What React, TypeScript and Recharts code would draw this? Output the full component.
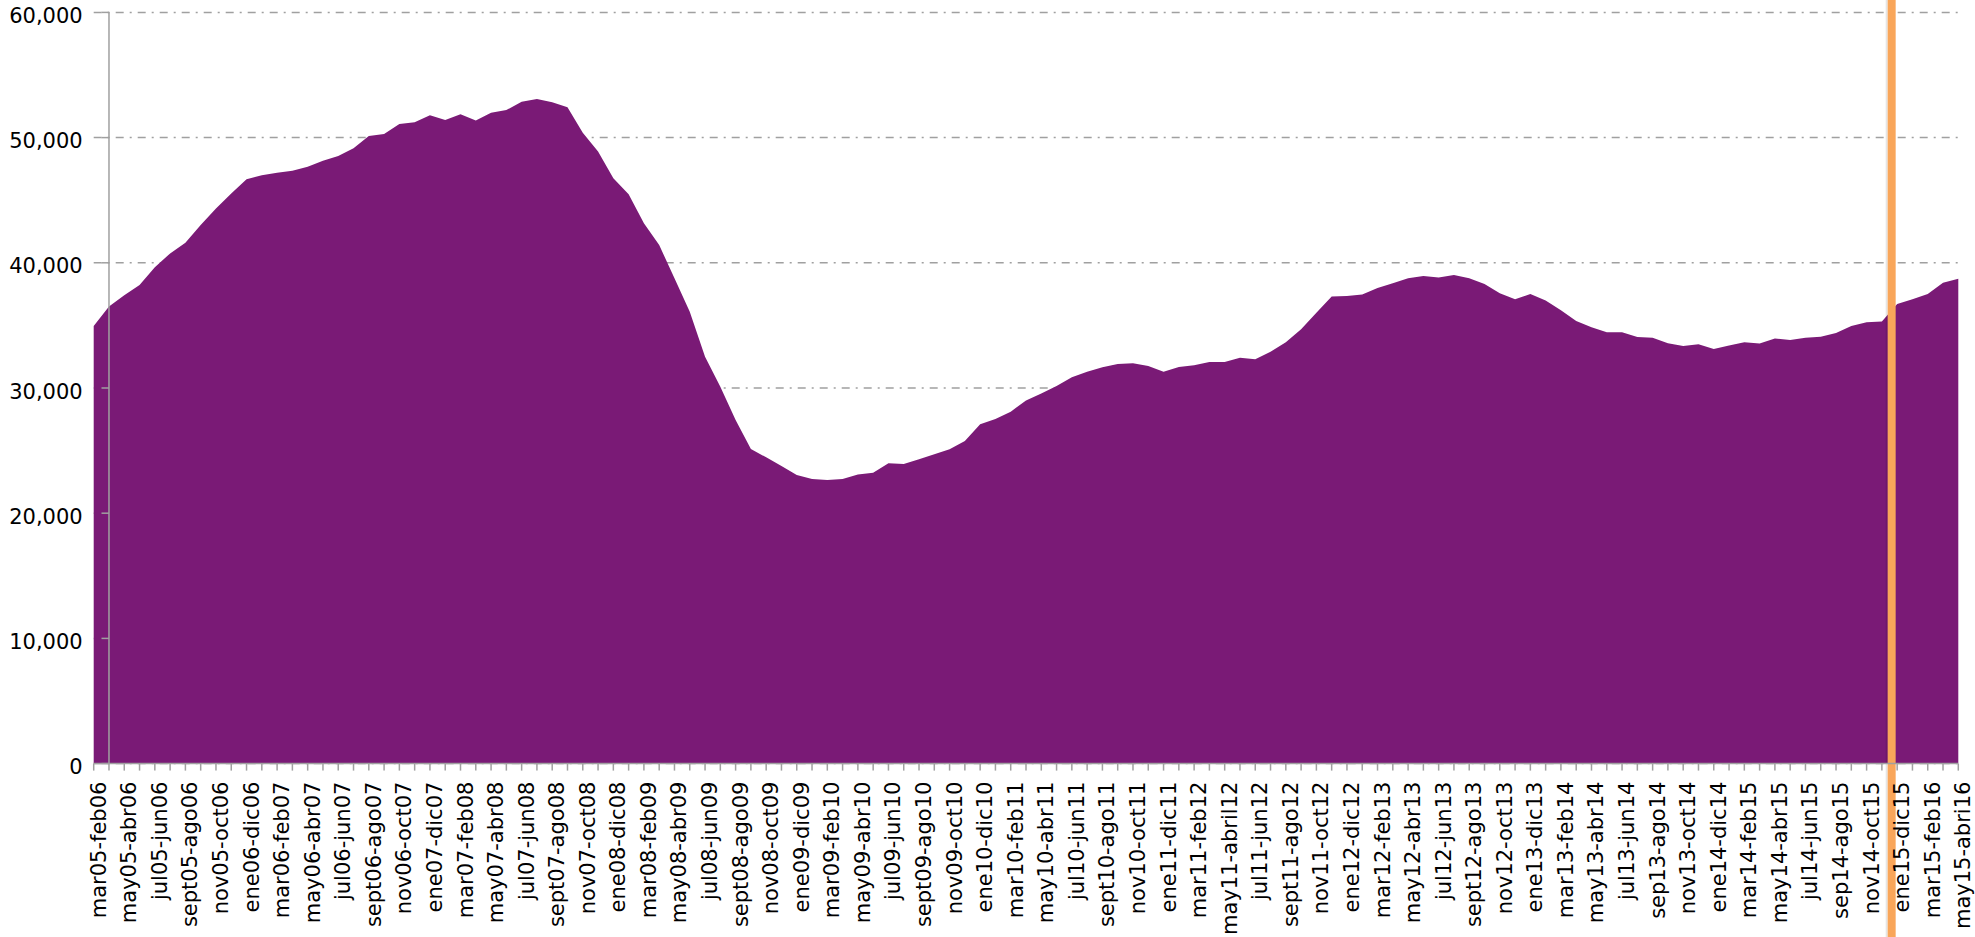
import React from 'react';
import { AreaChart, Area, XAxis, YAxis, CartesianGrid, ReferenceLine } from 'recharts';

// every other 12-month window is labelled on the axis (spelling as in the original)
const tickLabels = [
  'mar05-feb06', 'may05-abr06', 'jul05-jun06', 'sept05-ago06', 'nov05-oct06', 'ene06-dic06',
  'mar06-feb07', 'may06-abr07', 'jul06-jun07', 'sept06-ago07', 'nov06-oct07', 'ene07-dic07',
  'mar07-feb08', 'may07-abr08', 'jul07-jun08', 'sept07-ago08', 'nov07-oct08', 'ene08-dic08',
  'mar08-feb09', 'may08-abr09', 'jul08-jun09', 'sept08-ago09', 'nov08-oct09', 'ene09-dic09',
  'mar09-feb10', 'may09-abr10', 'jul09-jun10', 'sept09-ago10', 'nov09-oct10', 'ene10-dic10',
  'mar10-feb11', 'may10-abr11', 'jul10-jun11', 'sept10-ago11', 'nov10-oct11', 'ene11-dic11',
  'mar11-feb12', 'may11-abril12', 'jul11-jun12', 'sept11-ago12', 'nov11-oct12', 'ene12-dic12',
  'mar12-feb13', 'may12-abr13', 'jul12-jun13', 'sept12-ago13', 'nov12-oct13', 'ene13-dic13',
  'mar13-feb14', 'may13-abr14', 'jul13-jun14', 'sep13-ago14', 'nov13-oct14', 'ene14-dic14',
  'mar14-feb15', 'may14-abr15', 'jul14-jun15', 'sep14-ago15', 'nov14-oct15', 'ene15-dic15',
  'mar15-feb16', 'may15-abri16',
];

// rolling 12-month totals, one per month, mar05-feb06 .. may15-abri16
const ocupados = [
  34950, 36500, 37400, 38230, 39640, 40750, 41600, 43020, 44340, 45530,
  46670, 47000, 47200, 47360, 47680, 48160, 48530, 49150, 50130, 50290,
  51090, 51220, 51780, 51410, 51860, 51360, 51990, 52200, 52870, 53080,
  52820, 52420, 50390, 48880, 46750, 45470, 43150, 41420, 38760, 36100,
  32500, 30100, 27440, 25130, 24460, 23770, 23050, 22730, 22650, 22730,
  23100, 23240, 23980, 23930, 24300, 24700, 25100, 25770, 27100, 27520,
  28110, 29000, 29570, 30160, 30850, 31300, 31650, 31920, 31970, 31760,
  31300, 31680, 31810, 32080, 32080, 32420, 32290, 32900, 33650, 34690,
  36020, 37300, 37350, 37460, 37990, 38360, 38760, 38950, 38820, 39030,
  38760, 38300, 37560, 37080, 37510, 36980, 36220, 35350, 34850, 34450,
  34450, 34070, 34020, 33570, 33360, 33490, 33120, 33390, 33650, 33550,
  33950, 33840, 34020, 34100, 34390, 34950, 35250, 35320, 36710, 37080,
  37500, 38410, 38730,
];

const yTicks = [0, 10000, 20000, 30000, 40000, 50000, 60000];

const meses = ['ene', 'feb', 'mar', 'abr', 'may', 'jun', 'jul', 'ago', 'sept', 'oct', 'nov', 'dic'];
const highlightWindow = 'ene15-dic15';

const FONT = '"DejaVu Sans", sans-serif';
const GREY = '#A0A0A0';
const PURPLE = '#7A1A76';

// unlabelled months still need a name of their own
function windowName(i: number) {
  const start = 2 + i;
  const m = start % 12;
  const y = 5 + Math.floor(start / 12);
  const endM = (m + 11) % 12;
  const endY = m === 0 ? y : y + 1;
  const pad = (n: number) => String(n).padStart(2, '0');
  return `${meses[m]}${pad(y)}-${meses[endM]}${pad(endY)}`;
}

const categories = ocupados.map((_, i) => (i % 2 === 0 ? tickLabels[i / 2] : windowName(i)));
const data = categories.map((cat, i) => ({ cat, ocupados: ocupados[i] }));

function MonthTick({ x, y, payload, index }: any) {
  if (index % 2 !== 0) return null;
  return (
    <text
      x={x}
      y={y}
      transform={`rotate(-90, ${x}, ${y})`}
      textAnchor="end"
      dy={12}
      fontSize={21}
      fontFamily={FONT}
      fill="#000"
    >
      {payload.value}
    </text>
  );
}

function ValueTick({ x, y, payload }: any) {
  return (
    <g>
      <line x1={x + 18.8} x2={x + 26.3} y1={y} y2={y} stroke={GREY} strokeWidth={1.5} />
      <text x={x} y={y} dy={10.5} textAnchor="end" fontSize={21} fontFamily={FONT} fill="#000">
        {payload.value.toLocaleString('en-US')}
      </text>
    </g>
  );
}

function HighlightBar({ x1 }: any) {
  if (x1 == null) return null;
  return (
    <g>
      <rect x={x1 - 11.5} y={0} width={2} height={937} fill="#000" opacity={0.1} />
      <rect x={x1 - 9.5} y={0} width={8} height={937} fill="#F9A65A" />
    </g>
  );
}

export default function App() {
  return (
    <div style={{ position: 'fixed', top: 0, left: 0, width: 1975, height: 937, overflow: 'hidden', background: '#fff' }}>
      <AreaChart width={1975} height={937} data={data} margin={{ top: 12.4, right: 16.7, bottom: 0, left: 0 }}>
        <CartesianGrid
          vertical={false}
          stroke={GREY}
          strokeWidth={1.5}
          strokeDasharray="8 6 2 6"
        />
        <XAxis
          dataKey="cat"
          interval={0}
          height={173.4}
          tickSize={7}
          tickMargin={11}
          tickLine={{ stroke: GREY, strokeWidth: 1.5 }}
          axisLine={{ stroke: GREY, strokeWidth: 1.5 }}
          tick={<MonthTick />}
        />
        <YAxis
          width={93.7}
          domain={[0, 60000]}
          ticks={yTicks}
          interval={0}
          axisLine={false}
          tickLine={false}
          tickSize={0}
          tickMargin={11}
          tick={<ValueTick />}
        />
        <Area
          type="linear"
          dataKey="ocupados"
          fill={PURPLE}
          fillOpacity={1}
          stroke="none"
          isAnimationActive={false}
        />
        <ReferenceLine x={categories[1]} stroke={GREY} strokeWidth={1.5} />
        <ReferenceLine x={highlightWindow} ifOverflow="visible" shape={<HighlightBar />} />
      </AreaChart>
    </div>
  );
}
